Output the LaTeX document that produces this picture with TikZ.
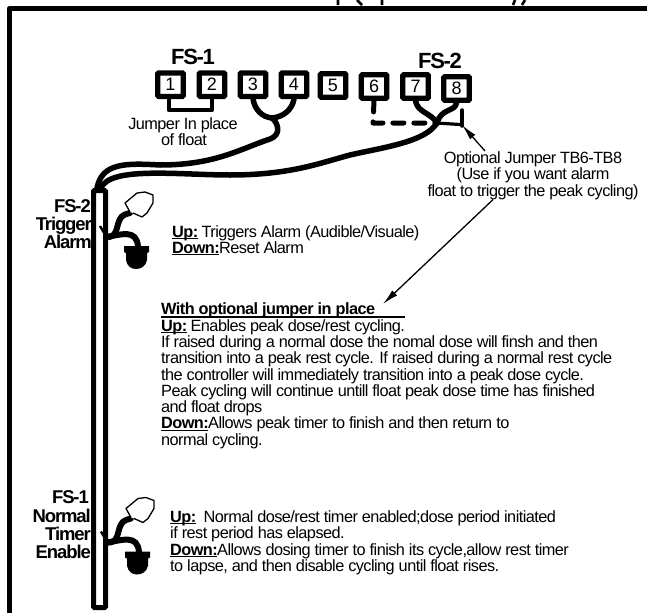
\documentclass[tikz,border=0pt]{standalone}
\usepackage{fontspec}
\setmainfont{Liberation Sans}
\usetikzlibrary{arrows.meta}
\newcommand{\bodyfont}{\fontsize{16.3}{16.3}\selectfont\addfontfeature{LetterSpace=-3.4}}
\newcommand{\headfont}{\fontsize{18.5}{18}\selectfont\bfseries\addfontfeature{LetterSpace=-6}}
\newcommand{\topfont}{\fontsize{22}{22}\selectfont\bfseries\addfontfeature{LetterSpace=-6}}
\newcommand{\ulb}[1]{\underline{\smash{\textbf{#1}}}}
\tikzset{
  term/.style={draw=black,line width=5.3pt,rounded corners=1pt,minimum width=25.5pt,minimum height=23.5pt,inner sep=0pt,fill=white,font=\fontsize{18}{18}\selectfont},
  wire/.style={line width=5.5pt,line cap=round,line join=round},
  thinwire/.style={line width=3.2pt,line cap=round},
  note/.style={inner sep=0pt,align=left,font=\bodyfont},
  notec/.style={inner sep=0pt,align=center,font=\bodyfont},
  head/.style={inner sep=0pt,align=right,font=\headfont},
  tophead/.style={inner sep=0pt,font=\topfont},
  lead/.style={line width=1.3pt,-{Latex[length=16pt,width=7pt]}},
  blob/.style={line width=1.3pt,line join=round,fill=white},
  stub/.style={line width=2.6pt}
}
\newcommand{\floatsym}[3]{%
  \begin{scope}[shift={(#1,#2)}]
    \coordinate (#3a) at (100,226);
    \draw[line width=2.4pt] (#3a) -- (106,236);
    \draw[line width=6pt,line cap=round,line join=round] (106,237) .. controls (118,238) and (116,226) .. (120,219) .. controls (122,215) and (126,214) .. (130,213);
    \draw[line width=6pt,line cap=round] (106,237) .. controls (120,235) and (137,228) .. (138,247);
    \draw[blob] (130,212) -- (125,203) -- (137,193) -- (145,192) -- (153,195) -- (153,203) -- (147,213) -- (142,217) -- (133,213);
    \fill (124,246) -- (149,246) -- (149,252) -- (147,253) -- (147,260) .. controls (146,266) and (141,269) .. (136,269) .. controls (131,269) and (127,266) .. (126,260) -- (126,253) -- (124,252) -- cycle;
  \end{scope}}
\begin{document}
\begin{tikzpicture}[x=1pt,y=-1pt]
\useasboundingbox (0,0) rectangle (647,613);
% frame
\coordinate (fb) at (9.5,613); \coordinate (fc) at (9.5,8.5); \coordinate (fr) at (647,8.5);
\draw[line width=5.5pt,line join=round] (fb) -- (fc) -- (fr);
% clipped title remnants
\coordinate (s1a) at (338,0); \coordinate (s1b) at (338,5);
\coordinate (s2a) at (357,0); \coordinate (s2b) at (362,5);
\coordinate (s3a) at (382,0); \coordinate (s3b) at (382,5);
\coordinate (s4a) at (513,5); \coordinate (s4b) at (515,0);
\coordinate (s5a) at (525,0); \coordinate (s5b) at (522,5);
\draw[stub] (s1a)--(s1b) (s2a)--(s2b) (s3a)--(s3b) (s4a)--(s4b) (s5a)--(s5b);
% heads
\node[tophead,anchor=base] (fs1) at (193,64) {FS-1};
\node[tophead,anchor=base] (fs2) at (440,68) {FS-2};
% left labels
\node[head,anchor=base east] (l1) at (91,212) {FS-2};
\node[head,anchor=base east] (l2) at (92,230) {Trigger};
\node[head,anchor=base east] (l3) at (92,248) {Alarm};
\node[head,anchor=base east] (l4) at (89,503) {FS-1};
\node[head,anchor=base east] (l5) at (91,522) {Normal};
\node[head,anchor=base east] (l6) at (91,540) {Timer};
\node[head,anchor=base east] (l7) at (91,558) {Enable};
% terminals
\node[term] (t1) at (170.5,84.7) {1};
\node[term] (t2) at (212,84.7) {2};
\node[term] (t3) at (253,84.7) {3};
\node[term] (t4) at (294,84.7) {4};
\node[term] (t5) at (333,85.5) {5};
\node[term] (t6) at (374,86.5) {6};
\node[term] (t7) at (415.5,86.5) {7};
\node[term] (t8) at (456.5,88.5) {8};
% pipe
\node[draw=black,line width=5pt,rounded corners=1pt,fill=white,minimum width=12pt,minimum height=417pt,inner sep=0pt] (pipe) at (99.5,399) {};
\coordinate (ja) at (272,118);
\coordinate (jb) at (437,123);
% jumper 1-2
\draw[line width=4pt,line join=round] ([xshift=-2pt]t1.south) -- ++(0,11) -| (t2.south);
% 3,4 harness
\draw[wire] (t3.south) .. controls (255,110) and (262,117) .. (ja);
\draw[wire] (t4.south) .. controls (292,110) and (283,117) .. (ja);
\draw[wire] (ja) .. controls (279,124) and (281,135) .. (270,139) .. controls (240,149) and (215,165) .. (160,165) .. controls (125,163) and (102,163) .. (97,188);
% 7,8 harness
\draw[wire] (t7.south) .. controls (418,113) and (430,112) .. (jb);
\draw[wire] (t8.south) .. controls (455,112) and (441,108) .. (jb);
\draw[wire] (jb) .. controls (425,142) and (385,147) .. (350,155) .. controls (320,163) and (290,175) .. (230,175) .. controls (180,175) and (110,166) .. (101,188);
% optional jumper
\coordinate (dc) at (373,123);
\coordinate (dm) at (436,123);
\coordinate (de) at (460,124.5);
\coordinate (vt) at (462,110);
\coordinate (vb) at (462,126);
\draw[line width=5pt,line cap=round,line join=round,dash pattern=on 11pt off 10pt] (t6.south) -- (dc) -- (dm);
\draw[thinwire] (dm) -- (de);
\draw[line width=3.5pt,line cap=round] (vt) -- (vb);
% notes
\node[notec,anchor=base] (opt) at (533,163) {Optional Jumper TB6-TB8};
\node[notec,anchor=base] (opt2) at (533,179) {(Use if you want alarm};
\node[notec,anchor=base] (opt3) at (533,196) {float to trigger the peak cycling)};
\node[notec,anchor=base] (jp1) at (183,129) {Jumper In place};
\node[notec,anchor=base] (jp2) at (184,145) {of float};
\coordinate (tipa) at (462,125);
\coordinate (tipb) at (383,304);
\draw[lead] (opt.north -| 485,0) -- (tipa);
\draw[lead] (opt3.south -| 493,0) -- (tipb);
% floats
\floatsym{0}{0}{fa}
\floatsym{1}{305.5}{fb}
% up/down text
\node[note,anchor=base west] (u1) at (172,237) {\ulb{Up:} Triggers Alarm (Audible/Visuale)};
\node[note,anchor=base west] (u2) at (172,253) {\ulb{Down:}Reset Alarm};
\node[note,anchor=base west,font=\bodyfont\bfseries] (w0) at (161,314) {With optional jumper in place};
\coordinate (wa) at (161,317); \coordinate (wb) at (405,317);
\draw[line width=1.2pt] (wa) -- (wb);
\node[note,anchor=base west] (w1) at (161,331) {\ulb{Up:} Enables peak dose/rest cycling.};
\node[note,anchor=base west] (w2) at (161,347) {If raised during a normal dose the nomal dose will finsh and then};
\node[note,anchor=base west] (w3) at (161,363.5) {transition into a peak rest cycle. If raised during a normal rest cycle};
\node[note,anchor=base west] (w4) at (161,380) {the controller will immediately transition into a peak dose cycle.};
\node[note,anchor=base west] (w5) at (161,396) {Peak cycling will continue untill float peak dose time has finished};
\node[note,anchor=base west] (w6) at (161,412) {and float drops};
\node[note,anchor=base west] (w7) at (161,428.5) {\ulb{Down:}Allows peak timer to finish and then return to};
\node[note,anchor=base west] (w8) at (161,445) {normal cycling.};
\node[note,anchor=base west] (b1) at (170,522) {\ulb{Up:}\ \ Normal dose/rest timer enabled;dose period initiated};
\node[note,anchor=base west] (b2) at (170,538) {if rest period has elapsed.};
\node[note,anchor=base west] (b3) at (170,555) {\ulb{Down:}Allows dosing timer to finish its cycle,allow rest timer};
\node[note,anchor=base west] (b4) at (170,571) {to lapse, and then disable cycling until float rises.};
\end{tikzpicture}
\end{document}
